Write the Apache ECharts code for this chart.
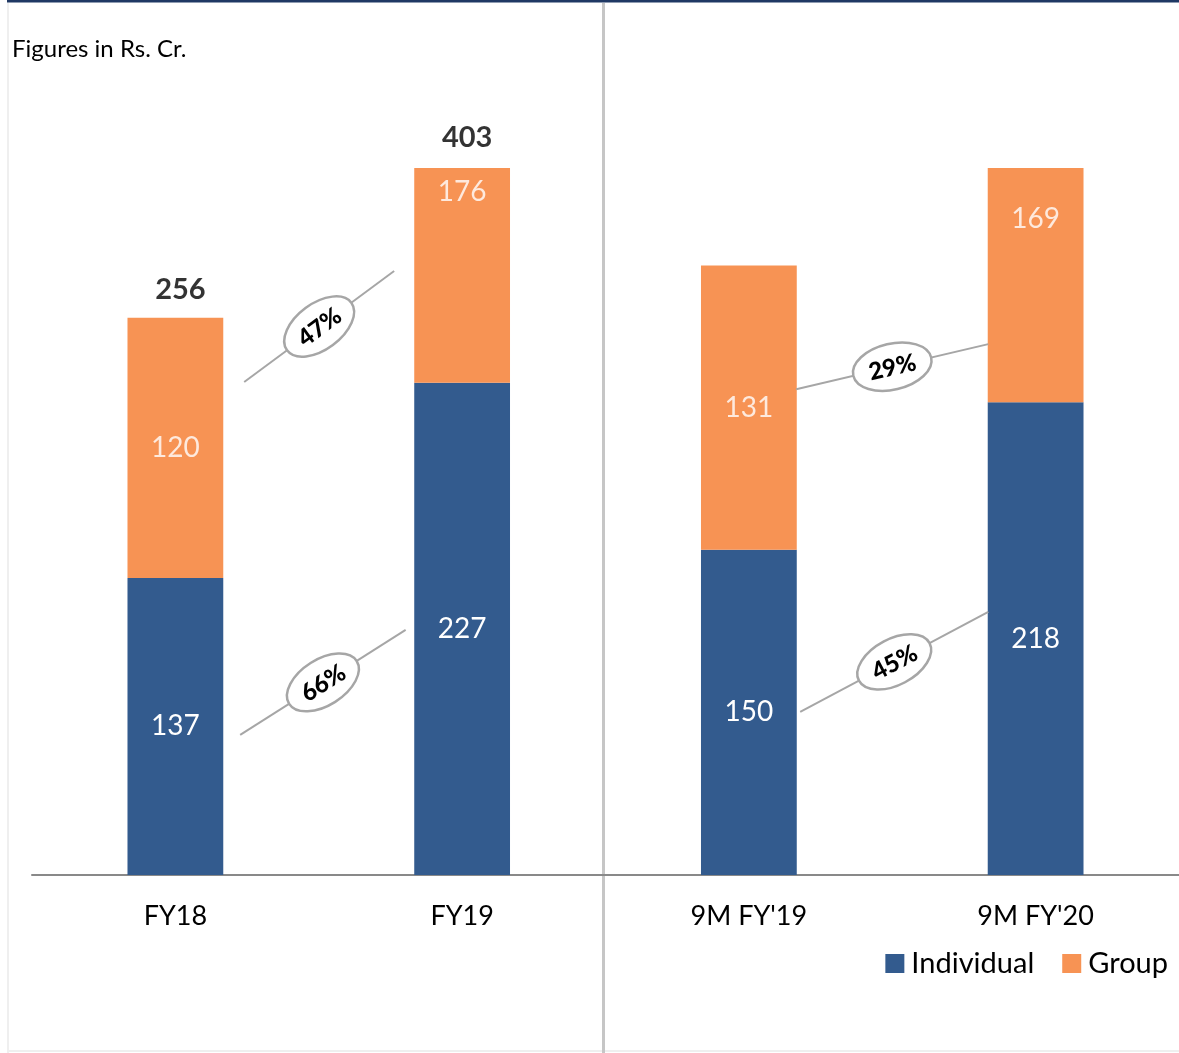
<!DOCTYPE html>
<html>
<head>
<meta charset="utf-8">
<script src="https://cdn.jsdelivr.net/npm/echarts@6/dist/echarts.min.js"></script>
<style>
  html, body { margin: 0; padding: 0; background: #ffffff; }
  #chart { width: 1179px; height: 1053px; }
</style>
</head>
<body>
<div id="chart"></div>
<script>
// Premium split by business line, figures in Rs. Cr.
const categories = ['FY18', 'FY19', "9M FY'19", "9M FY'20"];
const individual = [137, 227, 150, 218];
const group = [120, 176, 131, 169];
const totals = [256, 403, null, null];

// Growth badges: label, the pair of periods compared
const growthLabels = ['66%', '47%', '45%', '29%'];
const growthFrom = [0, 0, 2, 2];
const growthTo = [1, 1, 3, 3];

// Connector placement (value-axis heights and offsets within a category band)
const connectorY0 = [64.6, 227.3, 75.2, 224];
const connectorY1 = [113, 278.5, 121.3, 244.8];
const connectorInset = [[0.226, -0.197], [0.240, -0.237], [0.179, -0.165], [0.165, -0.165]];

const yMax = 326;
const FONT = 'Lato, "Open Sans", sans-serif';
const BLUE = '#335b8e';
const ORANGE = '#f79354';

const gridLeft = 32, gridRight = 0, gridTop = 168, gridBottom = 178;
const W = 1179, H = 1053;
const dividerX = gridLeft + (W - gridLeft - gridRight) / 2;

const chart = echarts.init(document.getElementById('chart'), null, { renderer: 'canvas' });

const option = {
  animation: false,
  textStyle: { fontFamily: FONT },
  grid: { left: gridLeft, right: gridRight, top: gridTop, bottom: gridBottom },
  legend: {
    data: ['Individual', 'Group'],
    right: 6,
    top: 944,
    icon: 'rect',
    itemWidth: 19,
    itemHeight: 19,
    itemGap: 28,
    textStyle: { fontFamily: FONT, fontSize: 29, color: '#000', padding: [0, 0, 0, 2] }
  },
  xAxis: {
    type: 'category',
    data: categories,
    axisTick: { show: false },
    axisLine: { lineStyle: { color: '#898989', width: 2 } },
    axisLabel: { color: '#000', fontSize: 27, fontFamily: FONT, margin: 28 }
  },
  yAxis: {
    type: 'value',
    min: 0,
    max: yMax,
    show: false,
    splitLine: { show: false }
  },
  series: [
    {
      name: 'Individual',
      type: 'bar',
      stack: 'premium',
      barWidth: '33.4%',
      itemStyle: { color: BLUE },
      label: {
        show: true,
        position: 'inside',
        color: '#fff',
        fontSize: 28,
        fontFamily: FONT
      },
      data: individual
    },
    {
      name: 'Group',
      type: 'bar',
      stack: 'premium',
      barWidth: '33.4%',
      itemStyle: { color: ORANGE },
      clip: true,
      data: group
    },
    {
      // value labels centred on each Group segment
      name: 'groupLabels',
      type: 'scatter',
      symbolSize: 0,
      silent: true,
      z: 5,
      label: {
        show: true,
        position: 'inside',
        color: '#fff',
        fontSize: 28,
        fontFamily: FONT,
        formatter: p => group[p.dataIndex]
      },
      data: group.map((g, i) => [i, individual[i] + g / 2])
    },
    {
      // totals above the stacks
      name: 'totals',
      type: 'scatter',
      symbolSize: 0,
      silent: true,
      z: 5,
      label: {
        show: true,
        position: 'top',
        distance: 13,
        offset: [5, 0],
        color: '#000',
        fontSize: 29,
        fontWeight: 'bold',
        lineHeight: 34,
        fontFamily: FONT,
        formatter: p => totals[p.value[0]]
      },
      data: totals
        .map((t, i) => (t == null ? null : [i, Math.min(t, yMax)]))
        .filter(d => d !== null)
    },
    {
      // growth connectors with oval badges
      name: 'growth',
      type: 'custom',
      silent: true,
      z: 6,
      renderItem: function (params, api) {
        const k = params.dataIndex;
        const band = api.size([1, 0])[0];
        const a = api.coord([growthFrom[k], connectorY0[k]]);
        const b = api.coord([growthTo[k], connectorY1[k]]);
        const x0 = a[0] + band * connectorInset[k][0];
        const y0 = a[1];
        const x1 = b[0] + band * connectorInset[k][1];
        const y1 = b[1];
        const mx = (x0 + x1) / 2;
        const my = (y0 + y1) / 2;
        const ang = Math.atan2(y0 - y1, x1 - x0);
        return {
          type: 'group',
          children: [
            {
              type: 'line',
              shape: { x1: x0, y1: y0, x2: x1, y2: y1 },
              style: { stroke: '#a6a6a6', lineWidth: 2 }
            },
            {
              type: 'group',
              x: mx,
              y: my,
              rotation: ang,
              children: [
                {
                  type: 'ellipse',
                  shape: { cx: 0, cy: 0, rx: 40, ry: 23 },
                  style: { fill: '#fff', stroke: '#a6a6a6', lineWidth: 2.5 }
                },
                {
                  type: 'text',
                  style: {
                    text: growthLabels[k],
                    x: 0,
                    y: 1,
                    align: 'center',
                    verticalAlign: 'middle',
                    font: '900 24px ' + FONT,
                    fill: '#000'
                  }
                }
              ]
            }
          ]
        };
      },
      data: growthLabels.map((_, k) => [growthFrom[k], connectorY0[k]])
    }
  ],
  graphic: [
    {
      type: 'line',
      shape: { x1: 7, y1: 1, x2: W, y2: 1 },
      style: { stroke: '#1f3864', lineWidth: 3 }
    },
    {
      type: 'line',
      shape: { x1: 8, y1: 3, x2: 8, y2: H },
      style: { stroke: '#efefef', lineWidth: 2 }
    },
    {
      type: 'line',
      shape: { x1: 8, y1: H - 2, x2: W, y2: H - 2 },
      style: { stroke: '#efefef', lineWidth: 2 }
    },
    {
      type: 'line',
      shape: { x1: dividerX - 2, y1: 3, x2: dividerX - 2, y2: H },
      style: { stroke: '#c6c6c6', lineWidth: 3 }
    },
    {
      type: 'text',
      left: 12,
      top: 37,
      style: { text: 'Figures in Rs. Cr.', font: '24px ' + FONT, fill: '#000' }
    }
  ]
};

chart.setOption(option);
</script>
</body>
</html>
